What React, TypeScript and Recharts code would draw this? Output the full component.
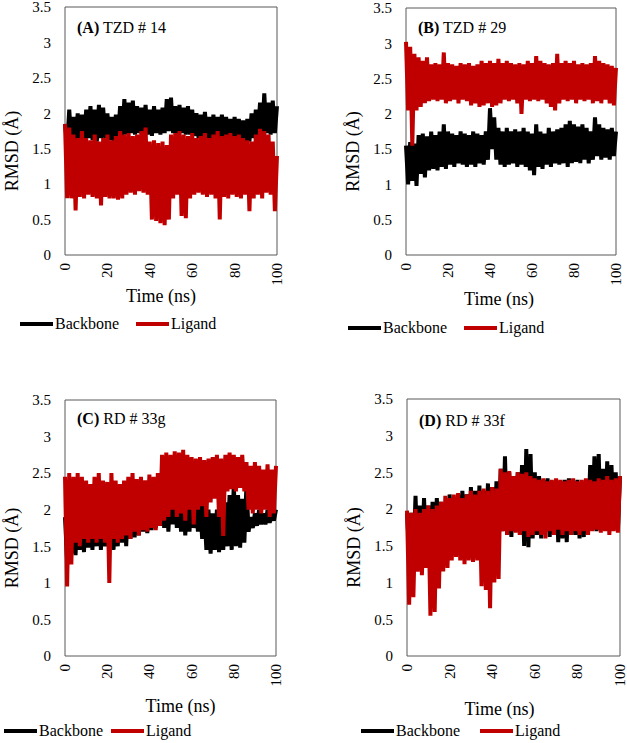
import * as React from "react"
import {
  LineChart,
  Line,
  XAxis,
  YAxis,
  ReferenceArea,
  Legend,
} from "recharts"

// RMSD (Å) sampled every 1 ns, 0..100 ns
const backboneA = [
  1.85, 1.55, 2.05, 1.6, 1.95, 1.62, 2.0, 1.6, 1.98, 1.62, 2.05, 1.65, 2.1, 1.62, 2.05, 1.6, 2.12, 1.65, 2.08, 1.65,
  2.0, 1.62, 1.95, 1.6, 1.98, 1.65, 2.1, 1.68, 2.2, 1.7, 2.15, 1.72, 2.18, 1.7, 2.1, 1.72, 2.08, 1.7, 2.12, 1.7,
  2.05, 1.68, 2.1, 1.72, 2.05, 1.7, 2.08, 1.72, 2.2, 1.75, 2.22, 1.72, 2.1, 1.7, 2.12, 1.72, 2.08, 1.7, 2.1, 1.7,
  2.05, 1.68, 2.0, 1.65, 1.98, 1.65, 2.02, 1.65, 1.95, 1.62, 1.98, 1.62, 1.95, 1.6, 1.98, 1.62, 1.95, 1.6, 1.92, 1.6,
  1.95, 1.62, 1.92, 1.6, 1.9, 1.58, 1.92, 1.6, 2.0, 1.65, 2.05, 1.68, 2.15, 1.7, 2.28, 1.72, 2.15, 1.7, 2.18, 1.72,
  2.1,
]
const ligandA = [
  1.85, 0.8, 1.8, 0.8, 1.7, 0.63, 1.65, 0.82, 1.75, 0.8, 1.65, 0.85, 1.62, 0.82, 1.7, 0.8, 1.6, 0.7, 1.65, 0.82,
  1.7, 0.8, 1.62, 0.8, 1.68, 0.78, 1.75, 0.8, 1.7, 0.85, 1.72, 0.88, 1.68, 0.85, 1.7, 0.9, 1.75, 0.88, 1.8, 0.85,
  1.6, 0.5, 1.62, 0.48, 1.58, 0.45, 1.6, 0.42, 1.55, 0.5, 1.7, 0.8, 1.72, 0.85, 1.75, 0.55, 1.7, 0.52, 1.68, 0.8,
  1.72, 0.85, 1.65, 0.88, 1.68, 0.85, 1.72, 0.82, 1.65, 0.85, 1.7, 0.8, 1.75, 0.5, 1.68, 0.82, 1.7, 0.8, 1.72, 0.85,
  1.68, 0.82, 1.7, 0.8, 1.65, 0.85, 1.62, 0.62, 1.6, 0.8, 1.7, 0.85, 1.78, 0.8, 1.75, 0.88, 1.7, 0.85, 1.6, 0.62,
  1.4,
]
const backboneB = [
  1.55, 1.0, 1.6, 1.05, 1.58, 0.98, 1.7, 1.15, 1.72, 1.1, 1.68, 1.2, 1.75, 1.22, 1.7, 1.2, 1.75, 1.25, 1.85, 1.22,
  1.75, 1.28, 1.72, 1.25, 1.7, 1.3, 1.75, 1.28, 1.72, 1.25, 1.7, 1.28, 1.75, 1.25, 1.72, 1.3, 1.7, 1.28, 1.75, 1.35,
  2.08, 1.5, 1.95, 1.35, 1.8, 1.28, 1.75, 1.25, 1.8, 1.28, 1.75, 1.3, 1.78, 1.25, 1.75, 1.28, 1.8, 1.25, 1.75, 1.2,
  1.72, 1.13, 1.85, 1.25, 1.75, 1.22, 1.72, 1.28, 1.8, 1.25, 1.75, 1.3, 1.78, 1.28, 1.8, 1.3, 1.85, 1.25, 1.9, 1.3,
  1.85, 1.32, 1.82, 1.3, 1.85, 1.35, 1.8, 1.3, 1.75, 1.35, 1.95, 1.4, 1.85, 1.35, 1.8, 1.38, 1.78, 1.35, 1.8, 1.4,
  1.75,
]
const ligandB = [
  3.02, 2.05, 2.95, 1.55, 2.85, 2.05, 2.8, 2.1, 2.75, 2.15, 2.8, 2.18, 2.7, 2.2, 2.72, 2.18, 2.7, 2.2, 2.87, 2.15,
  2.72, 2.18, 2.7, 2.2, 2.68, 2.15, 2.72, 2.2, 2.7, 2.18, 2.72, 2.12, 2.68, 2.15, 2.7, 2.1, 2.75, 2.12, 2.72, 2.15,
  2.75, 2.1, 2.72, 2.12, 2.78, 2.15, 2.72, 2.2, 2.75, 2.18, 2.72, 2.2, 2.7, 2.15, 2.72, 2.0, 2.7, 2.2, 2.75, 2.18,
  2.72, 2.2, 2.82, 2.18, 2.75, 2.2, 2.72, 2.15, 2.7, 2.1, 2.72, 2.05, 2.85, 2.15, 2.72, 2.2, 2.75, 2.18, 2.72, 2.2,
  2.75, 2.15, 2.7, 2.2, 2.72, 2.18, 2.7, 2.2, 2.72, 2.15, 2.82, 2.18, 2.75, 2.15, 2.72, 2.2, 2.7, 2.15, 2.68, 2.12,
  2.65,
]
const backboneC = [
  1.9, 1.3, 2.0, 1.4, 2.05, 1.38, 2.1, 1.45, 2.0, 1.42, 2.1, 1.48, 2.05, 1.45, 2.1, 1.5, 2.15, 1.45, 2.05, 1.5,
  2.1, 1.48, 2.15, 1.45, 2.1, 1.5, 2.15, 1.55, 2.2, 1.5, 2.25, 1.6, 2.4, 1.62, 2.2, 1.65, 2.25, 1.7, 2.2, 1.68,
  2.25, 1.72, 2.2, 1.75, 2.25, 1.78, 2.3, 1.75, 2.32, 1.7, 2.28, 1.8, 2.3, 1.75, 2.25, 1.7, 2.3, 1.65, 2.2, 1.7,
  2.25, 1.75, 2.2, 1.7, 2.15, 1.6, 2.05, 1.45, 2.0, 1.4, 1.95, 1.45, 2.0, 1.42, 1.9, 1.45, 2.1, 1.5, 2.2, 1.45,
  2.35, 1.5, 2.2, 1.48, 2.15, 1.55, 2.35, 1.7, 1.9, 1.75, 1.95, 1.78, 2.0, 1.8, 1.95, 1.8, 2.0, 1.82, 1.95, 1.85,
  2.0,
]
const ligandC = [
  2.45, 0.95, 2.5, 1.25, 2.45, 1.55, 2.5, 1.5, 2.45, 1.6, 2.4, 1.55, 2.35, 1.6, 2.45, 1.55, 2.5, 1.6, 2.4, 1.55,
  2.38, 1.0, 2.5, 1.6, 2.4, 1.55, 2.35, 1.6, 2.4, 1.65, 2.45, 1.6, 2.5, 1.7, 2.42, 1.65, 2.45, 1.72, 2.4, 1.7,
  2.48, 1.75, 2.45, 1.72, 2.5, 1.78, 2.75, 1.85, 2.78, 1.9, 2.75, 2.0, 2.8, 1.9, 2.78, 1.95, 2.82, 1.85, 2.75, 2.0,
  2.72, 1.8, 2.7, 2.0, 2.72, 2.05, 2.68, 1.9, 2.7, 2.1, 2.72, 2.15, 2.75, 1.9, 2.7, 1.64, 2.75, 2.25, 2.78, 2.28,
  2.75, 2.25, 2.72, 2.3, 2.75, 2.25, 2.65, 2.0, 2.6, 1.95, 2.65, 2.0, 2.6, 1.95, 2.55, 2.0, 2.62, 1.9, 2.55, 1.95,
  2.6,
]
const backboneD = [
  1.95, 1.4, 1.95, 1.3, 2.18, 1.35, 2.05, 1.4, 2.15, 1.35, 2.05, 1.4, 2.1, 1.35, 2.15, 1.45, 2.1, 1.5, 2.05, 1.45,
  2.2, 1.5, 2.15, 1.55, 2.2, 1.5, 2.25, 1.55, 2.2, 1.5, 2.3, 1.55, 2.25, 1.5, 2.32, 1.45, 2.25, 1.5, 2.35, 1.4,
  2.3, 1.5, 2.38, 1.65, 2.55, 1.7, 2.72, 1.65, 2.5, 1.62, 2.45, 1.7, 2.5, 1.65, 2.6, 1.5, 2.82, 1.48, 2.75, 1.6,
  2.5, 1.65, 2.45, 1.6, 2.4, 1.7, 2.42, 1.62, 2.38, 1.65, 2.4, 1.55, 2.38, 1.6, 2.4, 1.55, 2.42, 1.7, 2.38, 1.65,
  2.4, 1.6, 2.35, 1.62, 2.4, 1.7, 2.6, 1.72, 2.72, 1.7, 2.75, 1.72, 2.55, 1.75, 2.65, 1.7, 2.6, 1.75, 2.5, 1.72,
  2.45,
]
const ligandD = [
  1.98, 0.7, 1.95, 0.8, 2.0, 1.15, 1.95, 1.1, 2.0, 1.2, 2.05, 0.55, 2.0, 0.6, 2.05, 0.92, 2.1, 1.15, 2.18, 1.2,
  2.15, 1.3, 2.2, 1.35, 2.22, 1.3, 2.15, 1.25, 2.2, 1.3, 2.25, 1.28, 2.2, 1.3, 2.25, 0.95, 2.28, 0.9, 2.25, 0.65,
  2.3, 1.0, 2.28, 1.05, 2.55, 1.7, 2.5, 1.65, 2.52, 1.7, 2.45, 1.68, 2.5, 1.65, 2.48, 1.7, 2.5, 1.62, 2.45, 1.65,
  2.42, 1.7, 2.4, 1.65, 2.42, 1.6, 2.38, 1.7, 2.4, 1.65, 2.42, 1.72, 2.4, 1.65, 2.38, 1.7, 2.4, 1.65, 2.42, 1.7,
  2.38, 1.65, 2.4, 1.7, 2.42, 1.65, 2.4, 1.7, 2.38, 1.72, 2.42, 1.68, 2.4, 1.7, 2.45, 1.65, 2.4, 1.7, 2.42, 1.68,
  2.45,
]

const time = backboneA.map((_, i) => i)
const xTicks = [0, 20, 40, 60, 80, 100]
const yTicks = [0, 0.5, 1, 1.5, 2, 2.5, 3, 3.5]
const panelTags = ["(A)", "(B)", "(C)", "(D)"]
const panelNames = ["TZD # 14", "TZD # 29", "RD # 33g", "RD # 33f"]
const seriesNames = ["Backbone", "Ligand"]

const FONT = "'Liberation Serif', 'Times New Roman', serif"
const BLACK = "#000000"
const RED = "#C00000"

const buildData = (bb: number[], lig: number[]) =>
  time.map((t, i) => ({ t, backbone: bb[i], ligand: lig[i] }))

const XTick = ({ x, y, payload }: any) => (
  <text
    x={x}
    y={y}
    transform={`rotate(-90 ${x} ${y})`}
    textAnchor="end"
    dominantBaseline="central"
    fontSize={15}
    fill="#000"
  >
    {payload.value}
  </text>
)

const makeLegend = (gap: number) => ({ payload }: any) => (
  <div style={{ display: "flex", alignItems: "center", fontSize: 16, lineHeight: "16px", color: "#000", fontFamily: FONT }}>
    {(payload || []).map((e: any, i: number) => (
      <div key={i} style={{ display: "flex", alignItems: "center", marginRight: gap }}>
        <span style={{ display: "inline-block", width: 33, height: 4, background: e.color }} />
        <span style={{ marginLeft: 2 }}>{e.value}</span>
      </div>
    ))}
  </div>
)

type PanelProps = {
  idx: number
  left: number
  top: number
  width: number
  height: number
  margin: { top: number; right: number; bottom: number; left: number }
  xAxisHeight: number
  timeDx: number
  legendPos: { top: number; left: number }
  legendGap: number
  titleY: number
  data: { t: number; backbone: number; ligand: number }[]
}

function Panel(p: PanelProps) {
  const plotLeft = p.margin.left + 50
  return (
    <div style={{ position: "absolute", left: p.left, top: p.top }}>
      <LineChart width={p.width} height={p.height} data={p.data} margin={p.margin}>
        <XAxis
          dataKey="t"
          type="number"
          domain={[0, 100]}
          ticks={xTicks}
          tickLine={false}
          axisLine={false}
          height={p.xAxisHeight}
          tick={<XTick />}
          interval={0}
          label={{
            value: "Time (ns)",
            position: "insideBottom",
            offset: 0,
            dx: p.timeDx,
            fontSize: 18,
            fill: "#000",
          }}
        />
        <YAxis
          type="number"
          domain={[0, 3.5]}
          ticks={yTicks}
          width={50}
          tickLine={false}
          axisLine={false}
          tickMargin={8}
          interval={0}
          tick={{ fill: "#000", fontSize: 15 }}
          label={{
            value: "RMSD (Å)",
            angle: -90,
            position: "insideLeft",
            offset: -3,
            dy: 20,
            fontSize: 18,
            fill: "#000",
            style: { textAnchor: "middle" },
          }}
        />
        <Line
          type="linear"
          dataKey="backbone"
          name={seriesNames[0]}
          stroke={BLACK}
          strokeWidth={4}
          strokeLinejoin="miter"
          dot={false}
          activeDot={false}
          isAnimationActive={false}
        />
        <Line
          type="linear"
          dataKey="ligand"
          name={seriesNames[1]}
          stroke={RED}
          strokeWidth={4}
          strokeLinejoin="miter"
          dot={false}
          activeDot={false}
          isAnimationActive={false}
        />
        <ReferenceArea x1={0} x2={100} y1={0} y2={3.5} fill="none" stroke="#595959" strokeWidth={1} />
        <text x={plotLeft + 12} y={p.titleY} fontSize={16} fill="#000">
          <tspan fontWeight="bold">{panelTags[p.idx]}</tspan>
          <tspan> {panelNames[p.idx]}</tspan>
        </text>
        <Legend
          layout="horizontal"
          verticalAlign="middle"
          align="center"
          wrapperStyle={{ top: p.legendPos.top, left: p.legendPos.left, width: "auto" }}
          content={makeLegend(p.legendGap)}
        />
      </LineChart>
    </div>
  )
}

export default function App() {
  return (
    <div
      style={{
        position: "absolute",
        left: 0,
        top: 0,
        width: 627,
        height: 743,
        background: "#fff",
        fontFamily: FONT,
      }}
    >
      <Panel
        idx={0}
        left={0}
        top={0}
        width={313}
        height={340}
        margin={{ top: 7, right: 36, bottom: 38, left: 15 }}
        xAxisHeight={47}
        timeDx={-10}
        legendPos={{ top: 316, left: 20 }}
        legendGap={17}
        titleY={33}
        data={buildData(backboneA, ligandA)}
      />
      <Panel
        idx={1}
        left={313}
        top={0}
        width={314}
        height={345}
        margin={{ top: 8, right: 11, bottom: 40, left: 43 }}
        xAxisHeight={50}
        timeDx={-12}
        legendPos={{ top: 320, left: 35 }}
        legendGap={17}
        titleY={33}
        data={buildData(backboneB, ligandB)}
      />
      <Panel
        idx={2}
        left={0}
        top={380}
        width={313}
        height={363}
        margin={{ top: 20, right: 37, bottom: 31, left: 15 }}
        xAxisHeight={56}
        timeDx={10}
        legendPos={{ top: 343, left: 4 }}
        legendGap={8}
        titleY={44}
        data={buildData(backboneC, ligandC)}
      />
      <Panel
        idx={3}
        left={313}
        top={380}
        width={314}
        height={363}
        margin={{ top: 19, right: 7, bottom: 28, left: 44 }}
        xAxisHeight={59}
        timeDx={-14}
        legendPos={{ top: 343, left: 48 }}
        legendGap={20}
        titleY={46}
        data={buildData(backboneD, ligandD)}
      />
    </div>
  )
}
